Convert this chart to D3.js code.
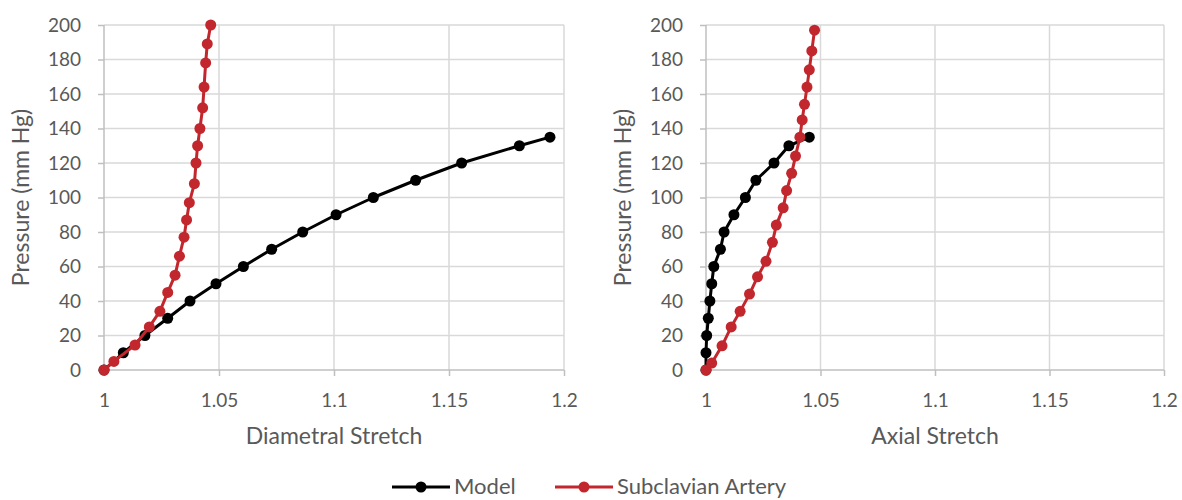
<!DOCTYPE html>
<html><head><meta charset="utf-8">
<script src="https://cdn.jsdelivr.net/npm/d3@7"></script>
<style>body{margin:0;background:#fff}text{font-family:Lato,"Open Sans",sans-serif;fill:#595959}</style>
</head><body><svg id="c" width="1182" height="500"></svg>
<script>
const pressureModel = [0,10,20,30,40,50,60,70,80,90,100,110,120,130,135];
const diamModel = [1,1.0084,1.0178,1.0277,1.0374,1.0487,1.0606,1.0729,1.0864,1.1009,1.1171,1.1355,1.1555,1.1806,1.1939];
const pressureArteryDiam = [0,5,14.5,25,34,45,55,66,77,87,97,108,120,130,140,152,164,178,189,200];
const diamArtery = [1,1.0043,1.0135,1.0197,1.0243,1.0277,1.0309,1.0328,1.0348,1.0359,1.0371,1.0393,1.04,1.0407,1.0417,1.0429,1.0435,1.0442,1.0449,1.0464];
const axialModel = [1,1,1.0003,1.001,1.0017,1.0025,1.0034,1.0063,1.0079,1.0122,1.0172,1.0218,1.0297,1.0362,1.0451];
const pressureArteryAxial = [0,4,14,25,34,44,54,63,74,84,94,104,114,124,135,145,154,164,174,185,197];
const axialArtery = [1,1.0025,1.007,1.011,1.0149,1.019,1.0225,1.0262,1.029,1.0307,1.0337,1.0352,1.0374,1.0391,1.041,1.042,1.043,1.0441,1.0451,1.0462,1.0474];
const xTicks = [1,1.05,1.1,1.15,1.2];
const yTicks = [0,20,40,60,80,100,120,140,160,180,200];
const seriesNames = ["Model","Subclavian Artery"];
const colors = ["#000000","#c1272d"];

const svg = d3.select("#c");
const fmt = d => d===1 ? "1" : String(d);

function panel(x0, x1, xTitle, yTitleX, series){
  const x = d3.scaleLinear().domain([1,1.2]).range([x0,x1]);
  const y = d3.scaleLinear().domain([0,200]).range([370,25]);
  const g = svg.append("g");
  g.selectAll(".hg").data(yTicks.filter(t=>t>0)).join("line")
    .attr("x1",x0).attr("x2",x1).attr("y1",d=>y(d)).attr("y2",d=>y(d))
    .attr("stroke","#d9d9d9").attr("stroke-width",1.5);
  g.selectAll(".vg").data(xTicks.filter(t=>t>1)).join("line")
    .attr("x1",d=>x(d)).attr("x2",d=>x(d)).attr("y1",y(0)).attr("y2",y(200))
    .attr("stroke","#d9d9d9").attr("stroke-width",1.5);
  const ax = g.append("g").attr("transform",`translate(0,${y(0)})`)
    .call(d3.axisBottom(x).tickValues(xTicks).tickFormat(fmt).tickSize(6).tickPadding(18));
  const ay = g.append("g").attr("transform",`translate(${x0},0)`)
    .call(d3.axisLeft(y).tickValues(yTicks).tickSize(6).tickPadding(17));
  [ax,ay].forEach(a=>{
    a.select(".domain").attr("stroke","#bfbfbf").attr("stroke-width",1.5);
    a.selectAll(".tick line").attr("stroke","#bfbfbf").attr("stroke-width",1.5);
    a.selectAll(".tick text").style("font-size","19px").style("fill","#595959").style("font-family","Lato,sans-serif");
  });
  ax.select(".domain").attr("d",`M${x0},0H${x1}`);
  ay.select(".domain").attr("d",`M0,${y(0)}V${y(200)}`);
  g.append("text").attr("x",(x0+x1)/2).attr("y",444).attr("text-anchor","middle")
    .style("font-size","23px").text(xTitle);
  g.append("text").attr("transform",`translate(${yTitleX},${(y(0)+y(200))/2}) rotate(-90)`)
    .attr("text-anchor","middle").style("font-size","23px").text("Pressure (mm Hg)");
  series.forEach((s,i)=>{
    const pts = s.xs.map((v,k)=>[x(v),y(s.ys[k])]);
    g.append("path").attr("d",d3.line()(pts)).attr("fill","none")
      .attr("stroke",colors[i]).attr("stroke-width",3).attr("stroke-linejoin","round");
    g.selectAll(null).data(pts).join("circle").attr("cx",d=>d[0]).attr("cy",d=>d[1])
      .attr("r",5.5).attr("fill",colors[i]);
  });
}

panel(104,564,"Diametral Stretch",29,[
  {xs:diamModel, ys:pressureModel},
  {xs:diamArtery, ys:pressureArteryDiam}
]);
panel(706,1164,"Axial Stretch",631,[
  {xs:axialModel, ys:pressureModel},
  {xs:axialArtery, ys:pressureArteryAxial}
]);

const lg = svg.append("g");
const lx = [392,555];
seriesNames.forEach((n,i)=>{
  lg.append("line").attr("x1",lx[i]).attr("x2",lx[i]+58).attr("y1",487).attr("y2",487)
    .attr("stroke",colors[i]).attr("stroke-width",3);
  lg.append("circle").attr("cx",lx[i]+29).attr("cy",487).attr("r",5.5).attr("fill",colors[i]);
  lg.append("text").attr("x",lx[i]+62).attr("y",494).style("font-size","22px").text(n);
});
</script></body></html>
